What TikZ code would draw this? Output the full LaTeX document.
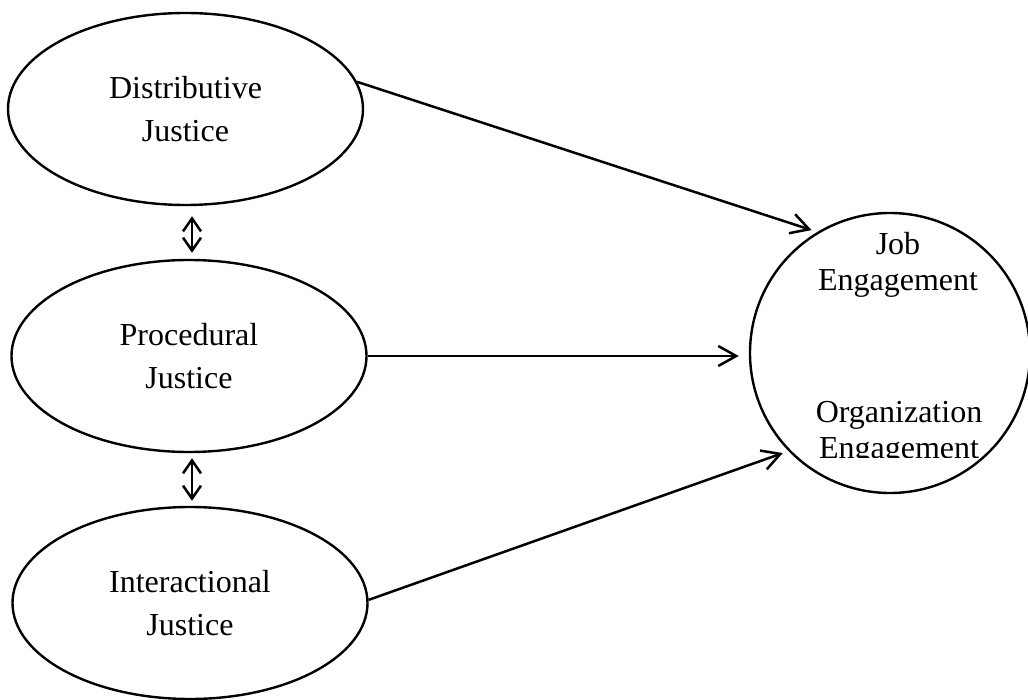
\documentclass[tikz,border=0pt]{standalone}
\usepackage{fontspec}
\setmainfont{Liberation Serif}
\usetikzlibrary{arrows.meta,shapes.geometric}
\begin{document}
\begin{tikzpicture}[x=1pt,y=-1pt,
  construct/.style={draw, line width=2.4pt, ellipse, minimum width=355pt, minimum height=192pt,
    inner sep=0pt, align=center, font=\fontsize{32pt}{43pt}\selectfont},
  outcome/.style={draw, line width=2.4pt, circle, minimum size=280pt, inner sep=0pt},
  lbl/.style={inner sep=0pt, align=center, font=\fontsize{32pt}{36pt}\selectfont},
  link/.style={line width=2.5pt, -{Straight Barb[length=18pt,width=20pt]}},
  dbl/.style={line width=2.5pt, {Straight Barb[length=13pt,width=18pt]}-{Straight Barb[length=13pt,width=18pt]}}
]
\useasboundingbox (0,0) rectangle (1028,700);

% exogenous constructs
\node[construct] (dist)  at (185.5,109) {Distributive\\Justice};
\node[construct] (proc)  at (189,356)   {Procedural\\Justice};
\node[construct] (inter) at (190,603)   {Interactional\\Justice};

% outcome construct
\node[outcome] (eng) at (890,353) {};
\node[lbl] (job) at (898,265) {Job\\Engagement};
\begin{scope}
  \clip (740,300) rectangle (1028,457);
  \node[lbl] (org) at (899,433) {Organization\\Engagement};
\end{scope}

% correlations between the justice dimensions
\draw[dbl] ([xshift=6.5pt,yshift=-10pt]dist.south) -- ([xshift=3pt,yshift=6pt]proc.north);
\draw[dbl] ([xshift=3pt,yshift=-5pt]proc.south) -- ([xshift=2pt,yshift=5pt]inter.north);

% paths to engagement
\draw[link, shorten >=6pt] (dist.9) -- (eng.121);
\draw[link, shorten >=10pt] (proc.east) -- (proc.east -| eng.west);
\draw[link, shorten >=6pt] (inter.1) -- (eng.224);
\end{tikzpicture}
\end{document}
